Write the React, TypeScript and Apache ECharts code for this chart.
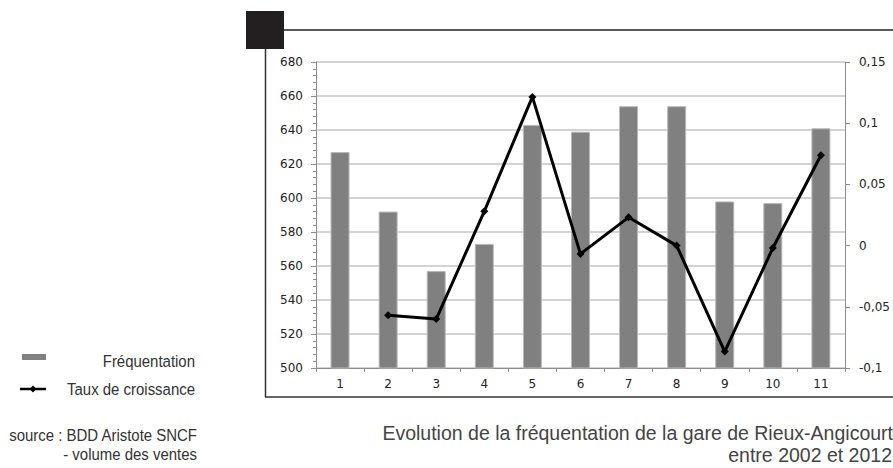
import React, { useEffect, useRef } from "react";
import * as echarts from "echarts";

const categories = ["1", "2", "3", "4", "5", "6", "7", "8", "9", "10", "11"];
const frequentation = [627, 592, 557, 573, 643, 639, 654, 654, 598, 597, 641];
const tauxCroissance: (number | null)[] = [null, -0.057, -0.06, 0.028, 0.1215, -0.0068, 0.0231, 0, -0.0866, -0.002, 0.0738];

const SANS = '"Liberation Sans", Arial, Helvetica, sans-serif';
const AXISFONT = '"DejaVu Sans", Verdana, sans-serif';

export default function App() {
  const ref = useRef<HTMLDivElement>(null);
  useEffect(() => {
    if (!ref.current) return;
    const chart = echarts.init(ref.current, null, { renderer: "svg" });
    const legendText = (text: string, x: number, y: number) => ({
      type: "text",
      x,
      y,
      scaleX: 0.88,
      style: { text, textAlign: "right", textVerticalAlign: "middle", font: `17px ${SANS}`, fill: "#333" },
    });
    chart.setOption({
      animation: false,
      backgroundColor: "#ffffff",
      grid: { left: 316, top: 62, right: 42, bottom: 100, containLabel: false },
      xAxis: {
        type: "category",
        data: categories,
        boundaryGap: true,
        axisLine: { onZero: false, lineStyle: { color: "#8c8c8c", width: 1 } },
        axisTick: { show: true, length: 4, lineStyle: { color: "#8c8c8c" } },
        axisLabel: { color: "#222", fontFamily: AXISFONT, fontSize: 12, margin: 10 },
      },
      yAxis: [
        {
          type: "value",
          min: 500,
          max: 680,
          interval: 20,
          position: "left",
          axisLine: { show: true, lineStyle: { color: "#8c8c8c", width: 1 } },
          axisTick: { show: true, length: 5, lineStyle: { color: "#8c8c8c" } },
          minorTick: { show: true, splitNumber: 5, length: 3, lineStyle: { color: "#8c8c8c" } },
          splitLine: { show: true, lineStyle: { color: "#c4c4c4", width: 1.5 } },
          axisLabel: { color: "#222", fontFamily: AXISFONT, fontSize: 12, margin: 13 },
        },
        {
          type: "value",
          min: -0.1,
          max: 0.15,
          interval: 0.05,
          position: "right",
          axisLine: { show: true, lineStyle: { color: "#8c8c8c", width: 1 } },
          axisTick: { show: true, length: 5, lineStyle: { color: "#8c8c8c" } },
          splitLine: { show: false },
          axisLabel: {
            color: "#222",
            fontFamily: AXISFONT,
            fontSize: 12,
            margin: 14,
            formatter: (v: number) => String(Math.round(v * 100) / 100).replace(".", ","),
          },
        },
      ],
      series: [
        {
          name: "Fréquentation",
          type: "bar",
          data: frequentation,
          yAxisIndex: 0,
          barWidth: 19,
          itemStyle: { color: "#808080", borderColor: "#b8b8b8", borderWidth: 1 },
        },
        {
          name: "Taux de croissance",
          type: "line",
          data: tauxCroissance,
          yAxisIndex: 1,
          symbol: "diamond",
          symbolSize: 8,
          lineStyle: { color: "#000", width: 3 },
          itemStyle: { color: "#000" },
          z: 5,
        },
      ],
      graphic: [
        { type: "rect", shape: { x: 246, y: 11, width: 38, height: 38 }, style: { fill: "#231f20" } },
        { type: "line", shape: { x1: 284, y1: 30, x2: 893, y2: 30 }, style: { stroke: "#222", lineWidth: 1.5 } },
        { type: "line", shape: { x1: 265.5, y1: 49, x2: 265.5, y2: 397 }, style: { stroke: "#333", lineWidth: 1.5 } },
        { type: "line", shape: { x1: 265, y1: 397, x2: 893, y2: 397 }, style: { stroke: "#333", lineWidth: 1.5 } },
        { type: "rect", shape: { x: 22, y: 354, width: 24, height: 6 }, style: { fill: "#808080" } },
        legendText("Fréquentation", 195, 361),
        { type: "line", shape: { x1: 20, y1: 389, x2: 46, y2: 389 }, style: { stroke: "#000", lineWidth: 2.5 } },
        { type: "polygon", shape: { points: [[33, 385.5], [36.5, 389], [33, 392.5], [29.5, 389]] }, style: { fill: "#000" } },
        legendText("Taux de croissance", 195, 389),
        legendText("source : BDD Aristote SNCF", 197, 435),
        legendText("- volume des ventes", 197, 454),
        { type: "text", x: 893, y: 433, style: { text: "Evolution de la fréquentation de la gare de Rieux-Angicourt", textAlign: "right", textVerticalAlign: "middle", font: `19.5px ${SANS}`, fill: "#444" } },
        { type: "text", x: 892, y: 455, style: { text: "entre 2002 et 2012", textAlign: "right", textVerticalAlign: "middle", font: `19.5px ${SANS}`, fill: "#444" } },
      ],
    });
    return () => chart.dispose();
  }, []);
  return <div ref={ref} style={{ position: "absolute", left: 0, top: 0, width: 893, height: 468 }} />;
}
